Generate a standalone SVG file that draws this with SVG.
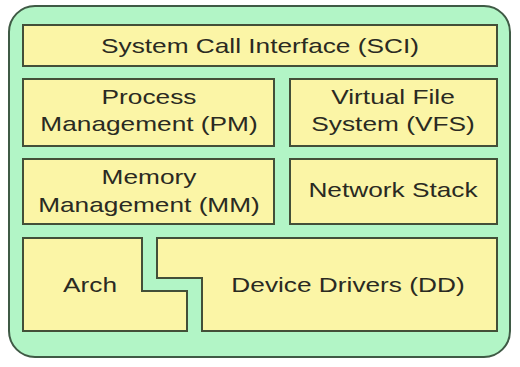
<svg xmlns="http://www.w3.org/2000/svg" width="520" height="367" viewBox="0 0 520 367">
<style>
.box{fill:#fbf5a6;stroke:#434f38;stroke-width:2}
.t{font-family:"Liberation Sans",Arial,sans-serif;font-size:21px;fill:#2a2a22;text-anchor:middle}
</style>
<rect x="0" y="0" width="520" height="367" fill="#ffffff"/>
<g id="kernel"><rect x="9" y="6" width="501" height="351" rx="26" ry="26" fill="#b2f5c6" stroke="#3f5a45" stroke-width="2"/></g>
<g id="sci"><rect class="box" x="23" y="25" width="474" height="41"/><text class="t" transform="translate(260,53) scale(1.25,1)">System Call Interface (SCI)</text></g>
<g id="pm"><rect class="box" x="23" y="79" width="251" height="67"/><text class="t" transform="translate(149,104) scale(1.25,1)">Process</text><text class="t" transform="translate(149,131) scale(1.25,1)">Management (PM)</text></g>
<g id="vfs"><rect class="box" x="290" y="79" width="207" height="67"/><text class="t" transform="translate(393,104) scale(1.25,1)">Virtual File</text><text class="t" transform="translate(393,131) scale(1.25,1)">System (VFS)</text></g>
<g id="mm"><rect class="box" x="23" y="159" width="251" height="65"/><text class="t" transform="translate(149,184) scale(1.25,1)">Memory</text><text class="t" transform="translate(149,212) scale(1.25,1)">Management (MM)</text></g>
<g id="net"><rect class="box" x="290" y="159" width="207" height="65"/><text class="t" transform="translate(393,197) scale(1.25,1)">Network Stack</text></g>
<g id="arch"><polygon class="box" points="23,238 142,238 142,291 187,291 187,331 23,331"/><text class="t" transform="translate(90,292) scale(1.25,1)">Arch</text></g>
<g id="dd"><polygon class="box" points="157,238 497,238 497,331 202,331 202,278 157,278"/><text class="t" transform="translate(348,292) scale(1.25,1)">Device Drivers (DD)</text></g>
<g id="connectors"></g>
</svg>
